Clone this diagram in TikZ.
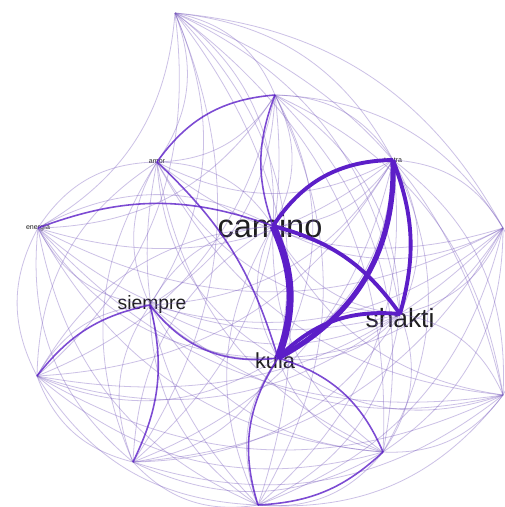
\documentclass[tikz,border=0pt]{standalone}
\usepackage{fontspec}
\setmainfont{Liberation Sans}
\usepackage{xcolor}
\usetikzlibrary{positioning}
\definecolor{graphviolet}{RGB}{92,30,200}
\definecolor{paleviolet}{RGB}{120,90,190}
\definecolor{labelgray}{RGB}{30,30,30}

\begin{document}
\begin{tikzpicture}[x=0.2mm, y=-0.2mm,
    thinedge/.style={paleviolet, line width=0.45pt, opacity=0.38},
    midedge/.style={graphviolet, line width=0.9pt, opacity=0.8},
    thickedge/.style={graphviolet, line width=2.2pt},
    heavyedge/.style={graphviolet, line width=4pt},
    lbl/.style={text=labelgray, inner sep=0pt}]
        \useasboundingbox (0,0) rectangle (504,507);
        \fill[white] (0,0) rectangle (504,507);

        % vertices
        \coordinate (top) at (175,13);
        \coordinate (topmid) at (275,95);
        \coordinate (tantra) at (393,160);
        \coordinate (right) at (503,228);
        \coordinate (shakti) at (400,314);
        \coordinate (rightlow) at (503,395);
        \coordinate (botright) at (383,452);
        \coordinate (bottom) at (258,505);
        \coordinate (kula) at (278,358);
        \coordinate (botleft) at (133,462);
        \coordinate (lowleft) at (37,376);
        \coordinate (siempre) at (150,305);
        \coordinate (left) at (38,228);
        \coordinate (amor) at (157,162);
        \coordinate (camino) at (273,226);

        % labels
        \node[lbl, font=\fontsize{18.5}{20}\selectfont] (camino-l) at (270,226) {camino};
        \node[lbl, font=\fontsize{15}{17}\selectfont] (shakti-l) at (400,318) {shakti};
        \node[lbl, font=\fontsize{11}{13}\selectfont] (siempre-l) at (152,304) {siempre};
        \node[lbl, font=\fontsize{12.4}{14}\selectfont] (kula-l) at (275,361) {kula};
        \node[lbl, font=\fontsize{4}{4.5}\selectfont] (amor-l) at (amor) {amor};
        \node[lbl, font=\fontsize{4}{4.5}\selectfont] (tantra-l) at (tantra) {tantra};
        \node[lbl, font=\fontsize{4}{4.5}\selectfont] (left-l) at (left) {energía};

        % all pairs, light
        \foreach \a [count=\i] in {top,topmid,tantra,right,shakti,rightlow,botright,bottom,kula,botleft,lowleft,siempre,left,amor,camino} {
          \foreach \b [count=\j] in {top,topmid,tantra,right,shakti,rightlow,botright,bottom,kula,botleft,lowleft,siempre,left,amor,camino} {
            \ifnum\i<\j
              \draw[thinedge] (\a) to[bend left=28] (\b);
            \fi
          }
        }

        % medium edges
        \draw[midedge] (amor) to[bend left=25] (topmid);
        \draw[midedge] (topmid) to[bend right=20] (camino);
        \draw[midedge] (amor) to[bend left=15] (kula);
        \draw[midedge] (siempre) to[bend right=30] (kula);
        \draw[midedge] (bottom) to[bend left=25] (kula);
        \draw[midedge] (kula) to[bend left=25] (botright);
        \draw[midedge] (botright) to[bend left=20] (bottom);
        \draw[midedge] (lowleft) to[bend left=20] (siempre);
        \draw[midedge] (left) to[bend left=20] (camino);
        \draw[midedge] (siempre) to[bend left=20] (botleft);

        % strong edges
        \draw[thickedge] (tantra) to[bend left=18] (shakti);
        \draw[thickedge] (camino) to[bend left=20] (shakti);
        \draw[thickedge] (kula) to[bend left=25] (shakti);
        \draw[thickedge] (camino) to[bend left=28] (tantra);
        \draw[thickedge, line width=3pt] (tantra) to[bend left=32] (kula);
        \draw[heavyedge] (camino) to[bend left=22] (kula);
      \end{tikzpicture}
\end{document}
